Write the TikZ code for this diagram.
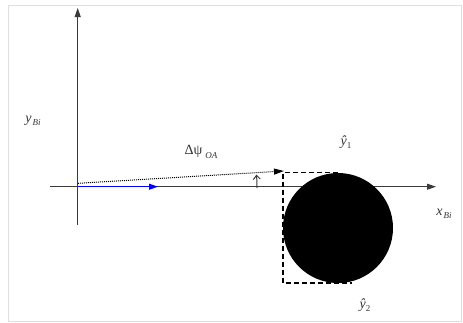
\documentclass[tikz,border=0pt]{standalone}
\usepackage{fontspec}
\setmainfont{Liberation Serif}
\usetikzlibrary{arrows.meta}
\definecolor{axisgray}{HTML}{3A3A3A}
\definecolor{txtgray}{HTML}{333333}
\begin{document}
\begin{tikzpicture}[x=1pt,y=-1pt,
  axis/.style={draw=axisgray,line width=0.9pt,-{Triangle[length=9pt,width=6pt]}},
  lbl/.style={inner sep=0pt,text=txtgray,font=\fontsize{14}{16}\selectfont}]
\newcommand{\subtxt}[1]{\raisebox{-3.5pt}{\fontsize{9}{10}\selectfont #1}}
\useasboundingbox (0,0) rectangle (463,322);
\draw[gray!25,line width=0.8pt] (8,5) rectangle (461.5,321);
% coordinates
\coordinate (O) at (77.7,186.7);
\coordinate (Ytop) at (77.7,8);
\coordinate (Ybot) at (77.7,225);
\coordinate (Xl) at (50,186.7);
\coordinate (Xr) at (436,186.7);
\coordinate (B) at (158,186.7);
\coordinate (Ds) at (78,183.3);
\coordinate (De) at (284,171);
\coordinate (C) at (338,228);
% axes
\draw[draw=axisgray,line width=0.9pt] (O) -- (Ybot);
\draw[axis] (O) -- (Ytop);
\draw[draw=axisgray,line width=0.9pt] (Xl) -- (O);
\draw[axis] (O) -- (Xr);
% blue arrow
\draw[blue,line width=1pt,-{Triangle[length=9pt,width=6pt]}] (O) -- (B);
% dotted arrow
\draw[black,line width=1pt,dash pattern=on 1pt off 1pt,-{Triangle[length=10pt,width=6pt]}] (Ds) -- (De);
% angle arc
\draw[axisgray,line width=1pt,-{Straight Barb[length=4pt,width=7pt]}] (257,188) arc[start angle=0,end angle=-4.3,radius=179];
% dashed box and circle
\draw[black,line width=1.2pt,dash pattern=on 5pt off 3pt] (338,172.7) -- (283,172.7) -- (283,283) -- (352,283);
\node[circle,fill=black,minimum size=110pt,inner sep=0pt] (circ) at (C) {};
% labels
\node[lbl] (yB) at (33,121) {\textit{y}\hspace{1pt}\subtxt{\itshape Bi}};
\node[lbl] (dpsi) at (201,152) {Δψ\hspace{3pt}\subtxt{\itshape OA}};
\node[lbl] (y1) at (346,142) {\textit{ŷ}\subtxt{1}};
\node[lbl] (xB) at (444,214) {\textit{x}\hspace{1pt}\subtxt{\itshape Bi}};
\node[lbl] (y2) at (365,305) {\textit{ŷ}\subtxt{2}};
\end{tikzpicture}
\end{document}
